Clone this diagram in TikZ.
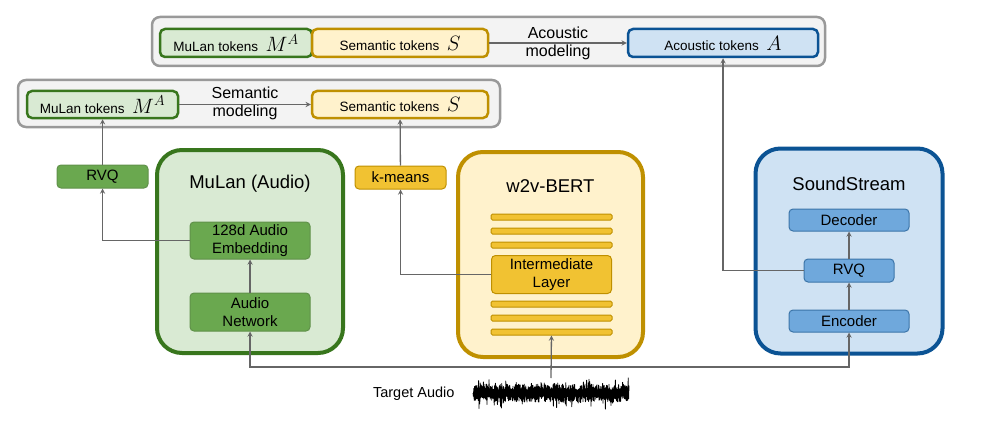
\documentclass[tikz,border=0pt]{standalone}
\usepackage{fontspec}
\setmainfont{Liberation Sans}
\usepackage{tikz}
\usetikzlibrary{positioning}
\usetikzlibrary{arrows}

\definecolor{grnL}{HTML}{D9EAD3}
\definecolor{grnM}{HTML}{6AA84F}
\definecolor{grnD}{HTML}{38761D}
\definecolor{ylwL}{HTML}{FFF2CC}
\definecolor{ylwM}{HTML}{F1C232}
\definecolor{ylwD}{HTML}{BF9000}
\definecolor{bluL}{HTML}{CFE2F3}
\definecolor{bluM}{HTML}{6FA8DC}
\definecolor{bluD}{HTML}{0B5394}
\definecolor{bgG}{HTML}{F3F3F3}
\definecolor{bgD}{HTML}{999999}
\definecolor{lineG}{HTML}{666666}

\tikzset{
  tokbox/.style={draw, rounded corners=5pt, line width=2.5pt, inner sep=0pt,
    minimum height=#1, font=\fontsize{13.5}{15}\selectfont},
  tokbox/.default=28pt,
  bgbox/.style={draw=bgD, fill=bgG, rounded corners=8pt, line width=2.5pt, inner sep=0pt},
  bigbox/.style={rounded corners=25pt, line width=4pt, inner sep=0pt,
    minimum width=186pt, minimum height=204pt},
  inbox/.style={draw, rounded corners=4pt, line width=1pt, inner sep=0pt,
    minimum width=120pt, align=center, font=\fontsize{15}{18}\selectfont},
  smbox/.style={draw, rounded corners=4pt, line width=1pt, inner sep=0pt,
    minimum width=91pt, minimum height=23pt, font=\fontsize{15}{18}\selectfont},
  bar/.style={draw=ylwD, fill=ylwM, rounded corners=1.5pt, line width=1pt,
    minimum width=121pt, minimum height=6pt, inner sep=0pt},
  title/.style={font=\fontsize{18.5}{22}\selectfont},
  label/.style={align=center, font=\fontsize{16}{18}\selectfont},
  conn/.style={->, >=stealth, draw=lineG, line width=1.3pt},
}
\newcommand{\bigmath}[1]{{\fontsize{20.74}{20}\selectfont$#1$}}

\begin{document}
\begin{tikzpicture}[x=1pt, y=-1pt]
\useasboundingbox (0,0) rectangle (981,425);

% token rows
\node[bgbox, minimum width=673pt, minimum height=49pt] (bgtop) at (488.5,41.5) {};
\node[bgbox, minimum width=482pt, minimum height=47pt] (bgsem) at (259,103.5) {};
\node[tokbox, draw=grnD, fill=grnL, minimum width=152pt] (mt1) at (236,43) {MuLan tokens~~\bigmath{M^A}};
\node[tokbox, draw=ylwD, fill=ylwL, minimum width=176pt] (st1) at (400,43) {Semantic tokens~~\bigmath{S}};
\node[tokbox, draw=bluD, fill=bluL, minimum width=190pt] (at1) at (723,43) {Acoustic tokens~~\bigmath{A}};
\node[label] (acm) at (558,43) {Acoustic\\modeling};
\node[tokbox=27pt, draw=grnD, fill=grnL, minimum width=151pt] (mt2) at (102.5,104.5) {MuLan tokens~~\bigmath{M^A}};
\node[tokbox=27pt, draw=ylwD, fill=ylwL, minimum width=176pt] (st2) at (400,104.5) {Semantic tokens~~\bigmath{S}};
\node[label] (sem) at (245,103) {Semantic\\modeling};

% MuLan
\node[bigbox, draw=grnD, fill=grnL, minimum height=203pt] (mulan) at (250,251.5) {};
\node[title] (mulant) at (250,184) {MuLan (Audio)};
\node[inbox, draw=grnD!80, fill=grnM, minimum height=37pt] (emb) at (250,240.5) {128d Audio\\Embedding};
\node[inbox, draw=grnD!80, fill=grnM, minimum height=38pt] (anet) at (250,312) {Audio\\Network};
\node[smbox, draw=grnD!80, fill=grnM] (rvqm) at (102.5,176.5) {RVQ};

% w2v-BERT
\node[bigbox, draw=ylwD, fill=ylwL, minimum width=185pt, minimum height=205pt] (w2v) at (550.5,254.5) {};
\node[title] (w2vt) at (550.5,186) {w2v-BERT};
\foreach \y [count=\i] in {217,231,245,304,318,332}
  \node[bar] (bar\i) at (551.5,\y) {};
\node[inbox, draw=ylwD, fill=ylwM, minimum height=38pt] (inter) at (551.5,274.5) {Intermediate\\Layer};
\node[smbox, draw=ylwD, fill=ylwM] (kmeans) at (400.5,177.5) {k-means};

% SoundStream
\node[bigbox, draw=bluD, fill=bluL, minimum width=187pt, minimum height=205pt] (ss) at (849,251) {};
\node[title] (sst) at (849,184) {SoundStream};
\node[inbox, draw=bluD!80, fill=bluM, minimum height=22pt] (dec) at (849,220) {Decoder};
\node[inbox, draw=bluD!80, fill=bluM, minimum width=90pt, minimum height=23pt] (srvq) at (849,270.5) {RVQ};
\node[inbox, draw=bluD!80, fill=bluM, minimum height=22pt] (enc) at (849,321) {Encoder};

% target audio
\node[font=\fontsize{14.5}{17}\selectfont, anchor=east] (tgt) at (458,394) {Target Audio};
\pgfmathsetseed{5}
\draw[line width=0.8pt, line join=round] (473,393) \foreach \i in {1,...,390}
  {-- ({473+\i*0.4},{393+ifthenelse(isodd(\i),1,-1)*(3+6*rnd+9*rnd^10)})};
\coordinate (wv) at (551,378);
\coordinate (jn) at (551,367);

% connectors
\draw[conn] (mt2) -- (st2);
\draw[conn] (st1) -- (at1);
\draw[conn] (emb.west) -| (rvqm.south);
\draw[conn] (rvqm) -- (mt2);
\draw[conn] (anet) -- (emb);
\draw[conn] (inter.west) -| (kmeans.south);
\draw[conn] (kmeans) -- (st2);
\draw[conn] (srvq.west) -| (at1.south);
\draw[conn] (enc) -- (srvq);
\draw[conn] (srvq) -- (dec);
\draw[conn] (jn) -| (anet.south);
\draw[conn] (jn) -| (enc.south);
\draw[conn] (wv) -- (bar6);
\end{tikzpicture}
\end{document}
